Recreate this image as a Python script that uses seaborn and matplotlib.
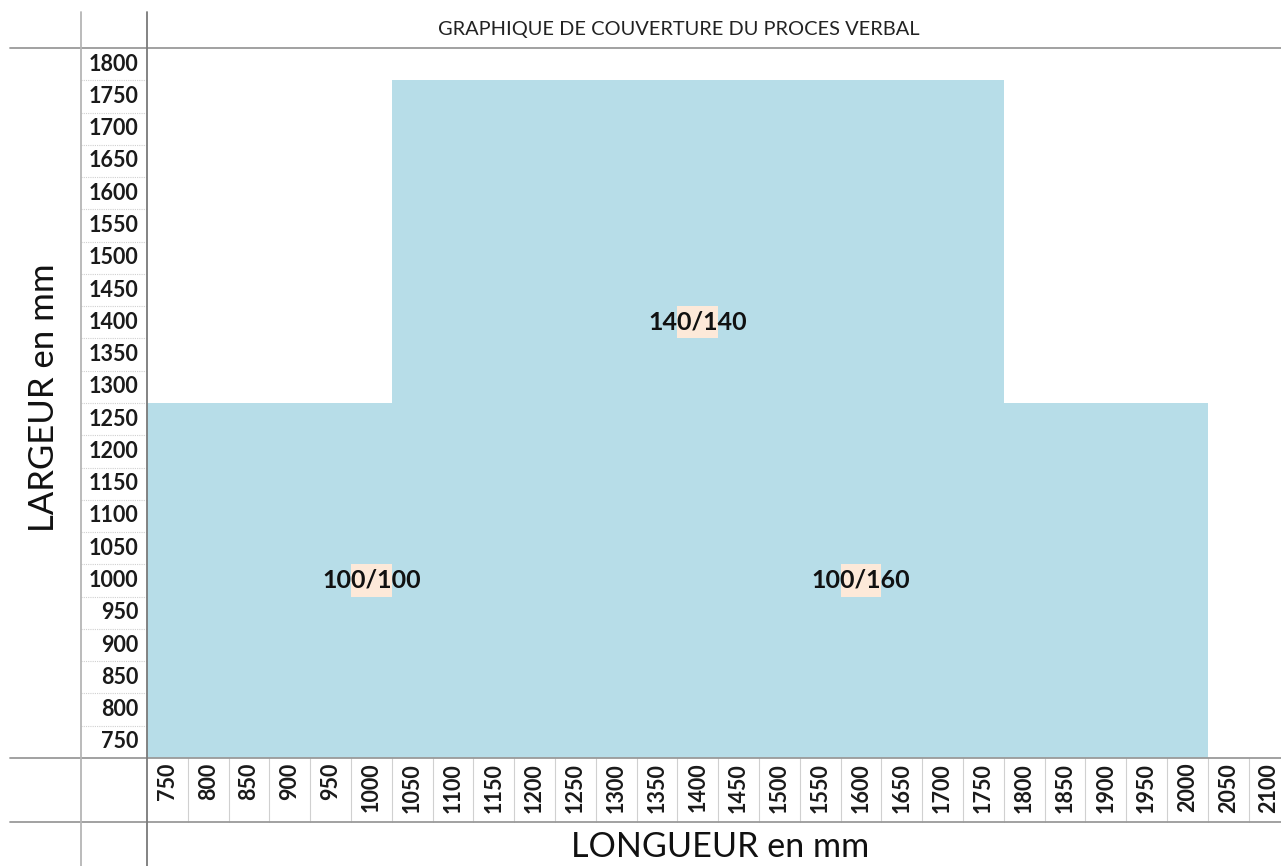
import numpy as np
import pandas as pd
import matplotlib.pyplot as plt
from matplotlib.colors import ListedColormap
from matplotlib.lines import Line2D
import seaborn as sns

# Axes du tableau (valeurs en mm)
longueurs = [750, 800, 850, 900, 950, 1000, 1050, 1100, 1150, 1200, 1250, 1300, 1350, 1400,
             1450, 1500, 1550, 1600, 1650, 1700, 1750, 1800, 1850, 1900, 1950, 2000, 2050, 2100]
largeurs = [1800, 1750, 1700, 1650, 1600, 1550, 1500, 1450, 1400, 1350, 1300, 1250,
            1200, 1150, 1100, 1050, 1000, 950, 900, 850, 800, 750]

# Zones couvertes par le proces verbal
zone_long_min = [750, 1050, 1800]
zone_long_max = [1000, 1750, 2000]
zone_larg_min = [750, 750, 750]
zone_larg_max = [1250, 1750, 1250]

# Etiquettes des sections
etiquettes = ["100/100", "140/140", "100/160"]
etiq_longueur = [1000, 1400, 1600]
etiq_largeur = [1000, 1400, 1000]

BLEU = "#b7dde8"
PECHE = "#fde9d9"

sns.set_style("white")
plt.rcParams["font.family"] = ["Lato", "DejaVu Sans"]

# Construction de la grille
grille = pd.DataFrame(0, index=largeurs, columns=longueurs)
for lmin, lmax, wmin, wmax in zip(zone_long_min, zone_long_max, zone_larg_min, zone_larg_max):
    grille.loc[(grille.index >= wmin) & (grille.index <= wmax),
               (grille.columns >= lmin) & (grille.columns <= lmax)] = 1
annot = pd.DataFrame("", index=largeurs, columns=longueurs)
for txt, lo, la in zip(etiquettes, etiq_longueur, etiq_largeur):
    grille.loc[la, lo] = 2
    annot.loc[la, lo] = txt

W, H = 1281, 866
fig = plt.figure(figsize=(W / 100, H / 100), dpi=100)
col_w = 40.8
x0, y_top, y_bot = 147, 48, 758
ax = fig.add_axes([x0 / W, (H - y_bot) / H, len(longueurs) * col_w / W, (y_bot - y_top) / H])

sns.heatmap(grille, ax=ax, cmap=ListedColormap(["white", BLEU, PECHE]), vmin=-0.5, vmax=2.5,
            cbar=False, annot=annot, fmt="", linewidths=0,
            annot_kws={"fontsize": 18, "fontweight": "bold", "color": "#111111"},
            xticklabels=longueurs, yticklabels=largeurs)

ax.set_xlabel("")
ax.set_ylabel("")
ax.tick_params(axis="y", length=0, pad=6, labelsize=15.5, labelrotation=0)
ax.tick_params(axis="x", length=0, pad=3.5, labelsize=15.5, labelrotation=90)
for lab in ax.get_yticklabels() + ax.get_xticklabels():
    lab.set_fontweight("bold")
    lab.set_color("#1a1a1a")
for s in ax.spines.values():
    s.set_visible(False)

# Bordures des cellules d'etiquettes (facon tableur)
larg_col = (x0 - 81) / (len(longueurs) * col_w)
haut_lig = (822 - y_bot) / (y_bot - y_top)
for j in range(1, len(largeurs)):
    ax.plot([-larg_col, 0], [j, j], transform=ax.get_yaxis_transform(),
            color="#d0d0d0", lw=0.8, ls=(0, (1, 1)), clip_on=False)
for i in range(1, len(longueurs)):
    ax.plot([i, i], [0, -haut_lig], transform=ax.get_xaxis_transform(),
            color="#d0d0d0", lw=0.8, clip_on=False)

# Lignes de la feuille
def ligne(xs, ys, c, lw=1.3):
    fig.add_artist(Line2D([x / W for x in xs], [1 - y / H for y in ys], color=c, lw=lw))

for y in (48, 758, 822):
    ligne([10, W], [y, y], "#9a9a9a")
ligne([81, 81], [12, H], "#b5b5b5")
ligne([147, 147], [12, H], "#7a7a7a")

fig.text(679 / W, 1 - 30 / H, "GRAPHIQUE DE COUVERTURE DU PROCES VERBAL",
         ha="center", va="center", fontsize=14.4, color="#222222")
fig.text(44 / W, 1 - 398 / H, "LARGEUR en mm", rotation=90,
         ha="center", va="center", fontsize=25, color="#111111")
fig.text(720 / W, 1 - 847 / H, "LONGUEUR en mm",
         ha="center", va="center", fontsize=24.6, color="#111111")

fig.savefig("out.png", dpi=100)
